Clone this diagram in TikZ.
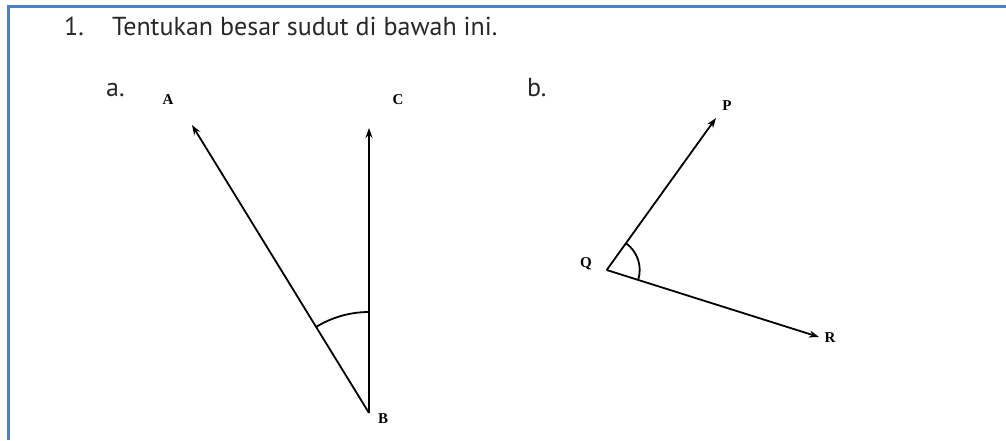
\documentclass[tikz,border=0pt]{standalone}
\usepackage{fontspec}
\setmainfont{Liberation Serif}
\newfontfamily\titlefont{PT Sans}
\usetikzlibrary{arrows.meta}
\definecolor{frameblue}{RGB}{79,129,189}
\definecolor{titlegray}{RGB}{40,40,40}
\tikzset{
  ray/.style={line width=1.8pt, -{Stealth[length=10pt,width=7pt]}},
  arcline/.style={line width=1.8pt},
  ptlabel/.style={font=\fontsize{15}{17}\selectfont\bfseries, inner sep=0pt},
  qtext/.style={font=\titlefont\fontsize{26}{30}\selectfont, text=titlegray, inner sep=0pt, anchor=base west},
}
\begin{document}
\begin{tikzpicture}[x=1pt,y=1pt]
\useasboundingbox (0,0) rectangle (1006,440);
% frame
\draw[frameblue, line width=2.5pt] (8.5,0) -- (8.5,433.5) -- (1006,433.5);
% title
\node[qtext] (num) at (64,404) {1.};
\node[qtext] (title) at (112,404) {Tentukan besar sudut di bawah ini.};
\node[qtext] (la) at (106,343) {a.};
\node[qtext] (lb) at (527,343) {b.};
% diagram a
\coordinate (B) at (369,27);
\coordinate (A) at (192,315);
\coordinate (C) at (369,312);
\draw[ray] (B) -- (A);
\draw[ray] (B) -- (C);
\draw[arcline] ([shift={(90:101)}]B) arc[start angle=90, end angle=121.6, radius=101];
\node[ptlabel] (nA) at (168,340) {A};
\node[ptlabel] (nC) at (398,340) {C};
\node[ptlabel] (nB) at (383,21) {B};
% diagram b
\coordinate (Q) at (606.7,170);
\coordinate (P) at (716,322);
\coordinate (R) at (819,103);
\draw[ray] (Q) -- (P);
\draw[ray] (Q) -- (R);
\draw[arcline] ([shift={(-17.5:33)}]Q) arc[start angle=-17.5, end angle=54.3, radius=33];
\node[ptlabel] (nQ) at (586,176) {Q};
\node[ptlabel] (nP) at (727,334) {P};
\node[ptlabel] (nR) at (830,102) {R};
\end{tikzpicture}
\end{document}
